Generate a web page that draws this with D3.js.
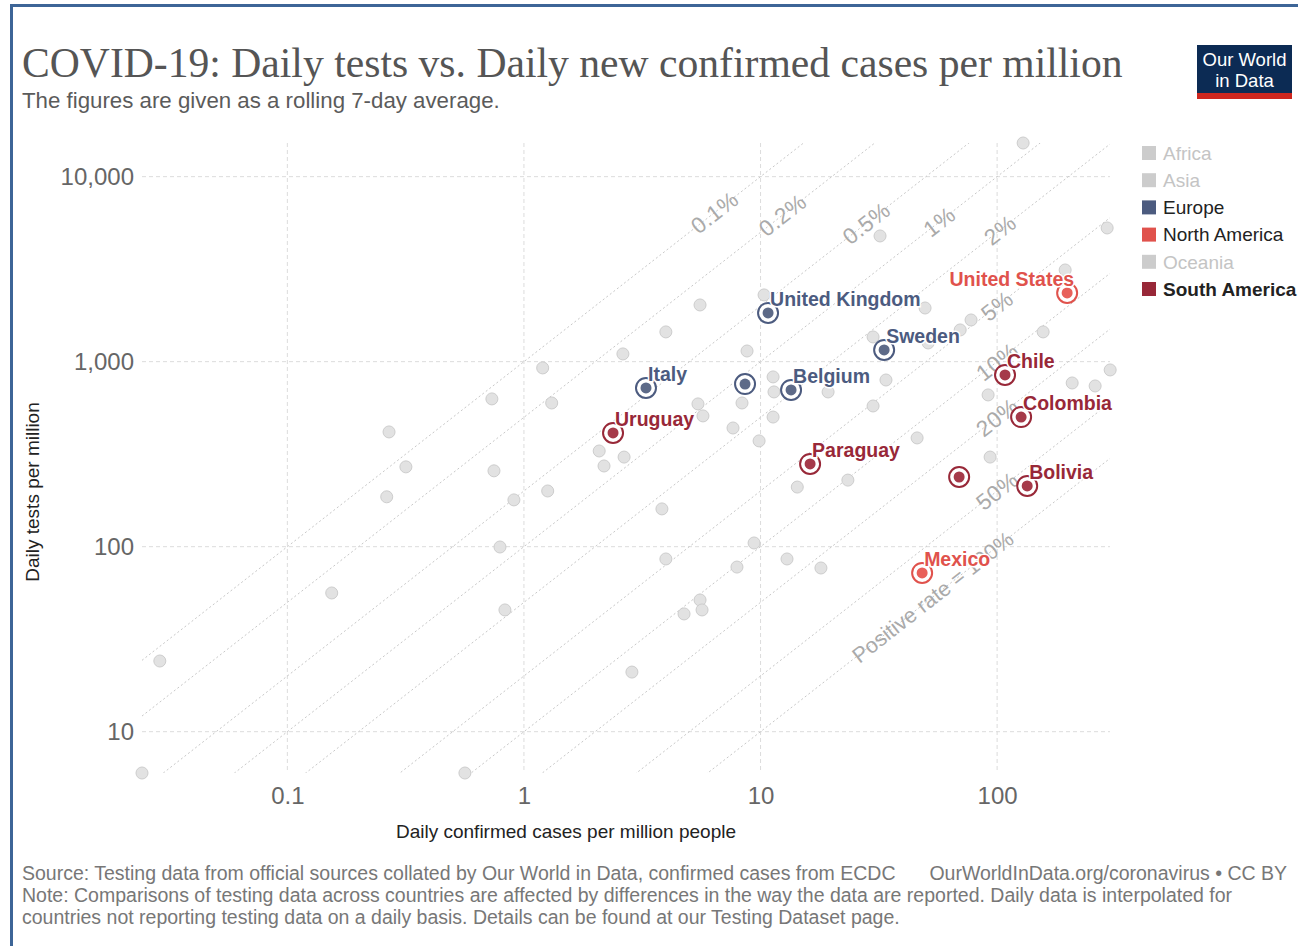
<!DOCTYPE html>
<html>
<head>
<meta charset="utf-8">
<script src="https://cdn.jsdelivr.net/npm/d3@7"></script>
<style>
  html, body { margin: 0; padding: 0; background: #fff; }
  svg { display: block; }
  text { font-family: "Liberation Sans", Arial, sans-serif; }
</style>
</head>
<body>
<svg id="chart" width="1298" height="946"></svg>
<script>
// ---------- DATA ----------
const legendRegions = ["Africa", "Asia", "Europe", "North America", "Oceania", "South America"];
const legendActive  = [false, false, true, true, false, true];

const highlightNames   = ["United Kingdom", "Italy", "", "Belgium", "Sweden", "United States", "Mexico", "Uruguay", "Paraguay", "Chile", "Colombia", "", "Bolivia"];
const highlightRegion  = ["Europe", "Europe", "Europe", "Europe", "Europe", "North America", "North America", "South America", "South America", "South America", "South America", "South America", "South America"];
const highlightCases   = [10.76, 3.28, 8.6, 13.46, 33.3, 197.7, 48.2, 2.38, 16.2, 108, 126.3, 69.1, 134];
const highlightTests   = [1834, 721, 757, 703, 1157, 2351, 72.1, 412, 280, 848, 502, 238, 213];

const otherCases = [128.8, 32.0, 291.8, 193.9, 5.55, 10.35, 3.98, 2.62, 1.20, 0.732, 1.31, 0.269, 8.77, 29.9, 49.6, 77.6, 69.8, 51.1, 156.5, 11.3, 11.4, 19.3, 33.9, 29.9, 8.35, 5.44, 5.71, 11.3, 7.65, 9.86, 2.08, 2.65, 2.18, 23.4, 14.3, 45.9, 91.6, 207.6, 259.6, 300.5, 93.4, 0.317, 0.263, 0.154, 0.0289, 0.0243, 0.747, 0.907, 1.26, 0.792, 0.831, 0.563, 3.83, 3.98, 2.86, 7.95, 9.39, 12.94, 5.55, 5.66, 4.75, 18.0];
const otherTests = [15200, 4780, 5280, 3130, 2025, 2295, 1448, 1101, 925, 629, 598, 417, 1142, 1360, 1950, 1680, 1484, 1262, 1448, 827, 686, 686, 796, 576, 598, 591, 509, 502, 438, 373, 329, 305, 273, 229, 210, 387, 661, 767, 739, 902, 305, 270, 186, 56.2, 24.1, 5.98, 257, 179, 200, 99.6, 45.5, 5.98, 160, 85.8, 21.0, 77.6, 104.7, 85.8, 51.5, 45.5, 43.3, 76.7];

const rates      = [0.001, 0.002, 0.005, 0.01, 0.02, 0.05, 0.1, 0.2, 0.5, 1];
const rateLabels = ["0.1%", "0.2%", "0.5%", "1%", "2%", "5%", "10%", "20%", "50%", "Positive rate = 100%"];
const rateLabelAtCases = [6.4, 12.4, 28, 57, 103, 100, 100, 100, 100, 114];

const xTicks = [0.1, 1, 10, 100];
const xTickLabels = ["0.1", "1", "10", "100"];
const yTicks = [10, 100, 1000, 10000];
const yTickLabels = ["10", "100", "1,000", "10,000"];

const titleText = "COVID-19: Daily tests vs. Daily new confirmed cases per million";
const subtitleText = "The figures are given as a rolling 7-day average.";
const xTitle = "Daily confirmed cases per million people";
const yTitle = "Daily tests per million";
const footer1 = "Source: Testing data from official sources collated by Our World in Data, confirmed cases from ECDC";
const footer1Right = "OurWorldInData.org/coronavirus \u2022 CC BY";
const footer2 = "Note: Comparisons of testing data across countries are affected by differences in the way the data are reported. Daily data is interpolated for";
const footer3 = "countries not reporting testing data on a daily basis. Details can be found at our Testing Dataset page.";

// ---------- STYLE ----------
const regionColor = { "Europe": "#4c5b7f", "North America": "#e0524c", "South America": "#982838" };
const regionDot   = { "Europe": "#5d6a88", "North America": "#e8605a", "South America": "#a53a4a" };
const greyLegend = "#cccccc";

const svg = d3.select("#chart");

// frame
svg.append("path").attr("d", "M11.5,1298 L11.5,5.5 L1298,5.5")
  .attr("fill", "none").attr("stroke", "#3d6597").attr("stroke-width", 3);

// title
const title = svg.append("text").attr("x", 22).attr("y", 77)
  .style("font-family", "'Liberation Serif', 'DejaVu Serif', serif")
  .attr("font-size", 40).attr("fill", "#555").text(titleText);
(function fit(){ const w = title.node().getComputedTextLength(); title.attr("font-size", 40 * 1101 / w); })();

const sub = svg.append("text").attr("x", 22).attr("y", 108).attr("font-size", 19.5).attr("fill", "#5b5b5b").text(subtitleText);
(function fit(){ const w = sub.node().getComputedTextLength(); sub.attr("font-size", 19.5 * 478 / w); })();

// logo
const logo = svg.append("g");
logo.append("rect").attr("x", 1197).attr("y", 45).attr("width", 95).attr("height", 49).attr("fill", "#0c2b54");
logo.append("rect").attr("x", 1197).attr("y", 93).attr("width", 95).attr("height", 6).attr("fill", "#ce261e");
logo.append("text").attr("x", 1244.5).attr("y", 66).attr("text-anchor", "middle").attr("font-size", 18.5).attr("fill", "#fff").text("Our World");
logo.append("text").attr("x", 1244.5).attr("y", 87).attr("text-anchor", "middle").attr("font-size", 18.5).attr("fill", "#fff").text("in Data");

// ---------- SCALES ----------
const plot = { left: 142, right: 1110, top: 143, bottom: 773 };
const x = d3.scaleLog().domain([0.0243, 300]).range([plot.left, plot.right]);
const y = d3.scaleLog().domain([5.98, 15200]).range([plot.bottom, plot.top]);

svg.append("defs").append("clipPath").attr("id", "plotclip")
  .append("rect").attr("x", plot.left).attr("y", plot.top)
  .attr("width", plot.right - plot.left).attr("height", plot.bottom - plot.top);

// grid
const grid = svg.append("g");
grid.selectAll("line.v").data(xTicks).join("line")
  .attr("x1", d => x(d)).attr("x2", d => x(d)).attr("y1", plot.top).attr("y2", plot.bottom)
  .attr("stroke", "#dcdcdc").attr("stroke-dasharray", "4,3").attr("stroke-width", 1);
grid.selectAll("line.h").data(yTicks).join("line")
  .attr("x1", plot.left).attr("x2", plot.right).attr("y1", d => y(d)).attr("y2", d => y(d))
  .attr("stroke", "#dcdcdc").attr("stroke-dasharray", "4,3").attr("stroke-width", 1);

// axes (tick labels via d3 axes)
const xAxis = svg.append("g").attr("transform", `translate(0,${plot.bottom})`)
  .call(d3.axisBottom(x).tickValues(xTicks).tickFormat((d, i) => xTickLabels[i]).tickSize(0).tickPadding(14));
xAxis.select(".domain").remove();
xAxis.selectAll("text").attr("font-size", 24).attr("fill", "#666").style("font-family", "'Liberation Sans', Arial, sans-serif");

const yAxis = svg.append("g").attr("transform", `translate(${plot.left - 8},0)`)
  .call(d3.axisLeft(y).tickValues(yTicks).tickFormat((d, i) => yTickLabels[i]).tickSize(0).tickPadding(0));
yAxis.select(".domain").remove();
yAxis.selectAll("text").attr("font-size", 24).attr("fill", "#666").style("font-family", "'Liberation Sans', Arial, sans-serif");

// axis titles
svg.append("text").attr("x", 566).attr("y", 838).attr("text-anchor", "middle").attr("font-size", 19).attr("fill", "#222").text(xTitle);
svg.append("text").attr("transform", "translate(39,492) rotate(-90)").attr("text-anchor", "middle").attr("font-size", 19).attr("fill", "#222").text(yTitle);

// positive-rate lines
const rl = svg.append("g").attr("clip-path", "url(#plotclip)");
rates.forEach(r => {
  const c0 = x.domain()[0], c1 = x.domain()[1];
  rl.append("line")
    .attr("x1", x(c0)).attr("y1", y(c0 / r))
    .attr("x2", x(c1)).attr("y2", y(c1 / r))
    .attr("stroke", "#c8c8c8").attr("stroke-dasharray", "2,2.5").attr("stroke-width", 1);
});
const angle = Math.atan2(y(100) - y(10), x(100) - x(10)) * 180 / Math.PI;
const rlab = svg.append("g");
rates.forEach((r, i) => {
  const last = i === rates.length - 1;
  const cx = x(rateLabelAtCases[i]), cy = y(rateLabelAtCases[i] / r);
  rlab.append("text")
    .attr("transform", `translate(${cx},${cy}) rotate(${angle})`)
    .attr("text-anchor", last ? "end" : "middle")
    .attr("dy", "0.35em").attr("font-size", last ? 21.5 : 22.5).attr("fill", "#aaaaaa")
    .attr("letter-spacing", last ? 0 : 0.5)
    .text(rateLabels[i]);
});

// grey points
svg.append("g").selectAll("circle").data(d3.range(otherCases.length)).join("circle")
  .attr("cx", i => x(otherCases[i])).attr("cy", i => y(otherTests[i])).attr("r", 6)
  .attr("fill", "#e2e2e2").attr("stroke", "#cdcdcd").attr("stroke-width", 1);

// highlighted points
const hl = svg.append("g");
const idx = d3.range(highlightNames.length);
hl.selectAll("circle.ring").data(idx).join("circle")
  .attr("cx", i => x(highlightCases[i])).attr("cy", i => y(highlightTests[i])).attr("r", 10)
  .attr("fill", "#fff").attr("stroke", i => regionColor[highlightRegion[i]]).attr("stroke-width", 2);
hl.selectAll("circle.dot").data(idx).join("circle")
  .attr("cx", i => x(highlightCases[i])).attr("cy", i => y(highlightTests[i])).attr("r", 5.5)
  .attr("fill", i => regionDot[highlightRegion[i]]);

// labels
const labs = svg.append("g");
idx.filter(i => highlightNames[i]).forEach(i => {
  const px = x(highlightCases[i]), py = y(highlightTests[i]);
  const rightEdge = highlightNames[i] === "United States";
  labs.append("text")
    .attr("x", rightEdge ? px + 7 : px + 2).attr("y", py - 7)
    .attr("text-anchor", rightEdge ? "end" : "start")
    .attr("font-size", 19.5).attr("font-weight", "bold")
    .attr("fill", regionColor[highlightRegion[i]])
    .attr("stroke", "#fff").attr("stroke-width", 3).attr("paint-order", "stroke")
    .text(highlightNames[i]);
});

// legend
const lg = svg.append("g");
legendRegions.forEach((r, i) => {
  const cy = 153 + i * 27.2;
  lg.append("rect").attr("x", 1142).attr("y", cy - 7).attr("width", 14).attr("height", 14)
    .attr("fill", legendActive[i] ? regionColor[r] : greyLegend);
  lg.append("text").attr("x", 1163).attr("y", cy).attr("dy", "0.36em").attr("font-size", 19)
    .attr("fill", legendActive[i] ? "#222" : "#c4c4c4")
    .attr("font-weight", r === "South America" ? "bold" : "normal").text(r);
});

// footer
const fcol = "#777777";
svg.append("text").attr("x", 22).attr("y", 880).attr("font-size", 19.5).attr("fill", fcol).text(footer1);
svg.append("text").attr("x", 1287).attr("y", 880).attr("text-anchor", "end").attr("font-size", 19.5).attr("fill", fcol).text(footer1Right);
svg.append("text").attr("x", 22).attr("y", 902).attr("font-size", 19.5).attr("fill", fcol).text(footer2);
svg.append("text").attr("x", 22).attr("y", 924).attr("font-size", 19.5).attr("fill", fcol).text(footer3);
</script>
</body>
</html>
